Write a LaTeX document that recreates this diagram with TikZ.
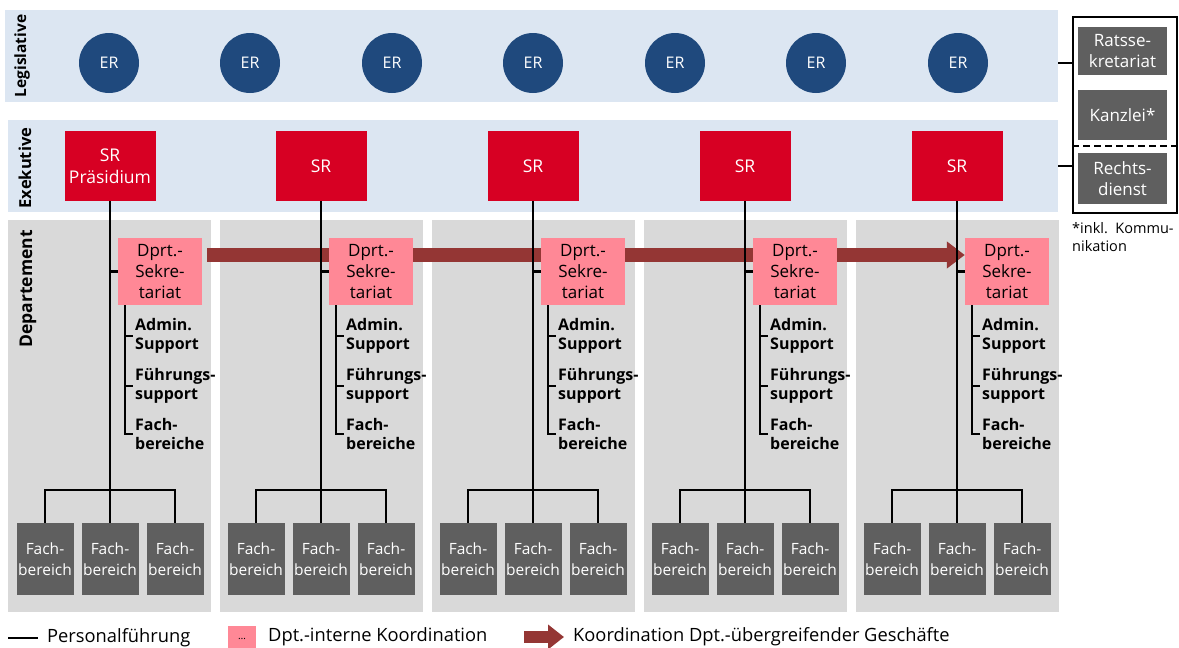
\documentclass[tikz,border=0pt]{standalone}
\usepackage{fontspec}
\setmainfont{Open Sans}
\usepackage{xcolor}
\usepackage{tikz}
\usetikzlibrary{positioning,arrows.meta,backgrounds}
\definecolor{bandblue}{RGB}{220,230,242}
\definecolor{colgray}{RGB}{217,217,217}
\definecolor{erblue}{RGB}{31,73,125}
\definecolor{srred}{RGB}{215,0,35}
\definecolor{sekpink}{RGB}{255,136,150}
\definecolor{fachgray}{RGB}{95,95,95}
\definecolor{arrowred}{RGB}{148,54,52}
\newcommand{\boxfont}{\fontsize{17pt}{21pt}\selectfont}
\newcommand{\fachfont}{\fontsize{15.5pt}{21pt}\selectfont}
\newcommand{\srfont}{\fontsize{17.5pt}{22pt}\selectfont}
\newcommand{\subfont}{\bfseries\fontsize{16pt}{19pt}\selectfont}
\newcommand{\labelfont}{\bfseries\fontsize{16.5pt}{18pt}\selectfont}
\newcommand{\notefont}{\fontsize{14.5pt}{18pt}\selectfont}
\newcommand{\keyfont}{\fontsize{18.3pt}{20pt}\selectfont}
\tikzstyle{band}=[rectangle, fill=bandblue, inner sep=0pt, anchor=north west, minimum height=92pt]
\tikzstyle{column}=[rectangle, fill=colgray, inner sep=0pt, anchor=north west,
        minimum width=203pt, minimum height=392pt]
\tikzstyle{bandlabel}=[rotate=90, font=\labelfont, inner sep=0pt]
\tikzstyle{er}=[circle, fill=erblue, text=white, minimum size=60pt, inner sep=0pt,
        font=\fontsize{16pt}{18pt}\selectfont]
\tikzstyle{srbox}=[rectangle, fill=srred, text=white, minimum width=91pt, minimum height=70pt,
        align=center, inner sep=0pt, font=\srfont]
\tikzstyle{sekbox}=[rectangle, fill=sekpink, minimum width=84pt, minimum height=67pt,
        align=center, inner sep=0pt, font=\boxfont]
\tikzstyle{fachbox}=[rectangle, fill=fachgray, text=white, minimum width=57pt, minimum height=72pt,
        align=center, inner sep=0pt, font=\fachfont]
\tikzstyle{panelbox}=[rectangle, fill=fachgray, text=white, minimum width=89pt,
        align=center, inner sep=0pt, font=\boxfont]
\tikzstyle{subitem}=[anchor=west, align=left, inner sep=2pt, font=\subfont]
\tikzstyle{keytext}=[anchor=west, inner sep=0pt, font=\keyfont]
\tikzstyle{lead}=[-, line width=2.4pt]
\tikzstyle{sublead}=[-, line width=1.4pt]
\tikzstyle{bigarrow}=[-{Triangle[length=18pt, width=26pt]}, line width=14pt, draw=arrowred]

\begin{document}
\begin{tikzpicture}[x=1pt, y=-1pt]
    \useasboundingbox (0,0) rectangle (1179,648);
    % Legislative
    \node (LegLabel) [bandlabel, font=\bfseries\fontsize{15.5pt}{18pt}\selectfont] at (22,56) {Legislative};
    \foreach \i/\ex in {1/109,2/250,3/392,4/533,5/675,6/816,7/958}
        \node (ER\i) [er] at (\ex,63) {ER};
    % Exekutive and Departement
    \node (ExeLabel) [bandlabel] at (25,168) {Exekutive};
    \node (DepLabel) [bandlabel, font=\bfseries\fontsize{17.5pt}{18pt}\selectfont] at (28,289) {Departement};
    \foreach \i/\lx/\srtext in {1/110/{SR\\Präsidium},2/321/SR,3/533/SR,4/745/SR,5/957/SR}
    {
        \node (SR\i) [srbox] at (\lx,166) {\srtext};
        \node (Sek\i) [sekbox] at (\lx+50,271.5) {Dprt.-\\Sekre-\\tariat};
        \node (Adm\i) [subitem] at (\lx+23,336) {Admin.\\Support};
        \node (Fue\i) [subitem] at (\lx+23,386) {Führungs-\\support};
        \node (Fbe\i) [subitem] at (\lx+23,434) {Fach-\\bereiche};
        \coordinate (Top\i) at (\lx,490);
        \node (FbL\i) [fachbox] at (\lx-65,559) {Fach-\\bereich};
        \node (FbM\i) [fachbox] at (\lx,559) {Fach-\\bereich};
        \node (FbR\i) [fachbox] at (\lx+65,559) {Fach-\\bereich};
        \draw[lead] (SR\i.south) -- (Top\i);
        \draw[lead] (FbL\i.north) |- (Top\i) -| (FbR\i.north);
        \draw[lead] (Top\i) -- (FbM\i.north);
        \draw[lead] (Sek\i.west -| SR\i.south) -- (Sek\i.west);
        \draw[sublead] ([xshift=7pt]Sek\i.south west) |- (Fbe\i.west);
        \draw[sublead] ([xshift=7pt]Sek\i.south west |- Adm\i.west) -- (Adm\i.west);
        \draw[sublead] ([xshift=7pt]Sek\i.south west |- Fue\i.west) -- (Fue\i.west);
    }
    \begin{scope}[on background layer]
        \node (Leg) [band, minimum width=1053pt] at (5,10) {};
        \node (Exe) [band, minimum width=1050pt] at (8,120) {};
        \foreach \i/\cx in {1/8,2/220,3/432,4/644,5/856}
            \node (Col\i) [column] at (\cx,220) {};
        \draw[bigarrow] ([xshift=5pt, yshift=16.5pt]Sek1.east) -- ([yshift=16.5pt]Sek5.west);
    \end{scope}
    % Ratssekretariat, Kanzlei, Rechtsdienst
    \node (Panel) [rectangle, draw, line width=2pt, anchor=north west,
        minimum width=104pt, minimum height=196pt] at (1072,16) {};
    \node (Rats) [panelbox, minimum height=48pt] at (1122.5,51) {Ratsse-\\kretariat};
    \node (Kanz) [panelbox, minimum height=50pt] at (1122.5,115) {Kanzlei*};
    \node (Recht) [panelbox, minimum height=51pt] at (1122.5,178.5) {Rechts-\\dienst};
    \coordinate (Split) at (1122,146);
    \draw[line width=1.6pt, dash pattern=on 7pt off 4pt] (Panel.west |- Split) -- (Panel.east |- Split);
    \draw[sublead] (Leg.east |- ER1) -- (Panel.west |- ER1);
    \draw[sublead] (Exe.east |- SR1) -- (Panel.west |- SR1);
    \node (Note) [anchor=north west, align=left, inner sep=0pt, font=\notefont]
        at (1072,222) {*inkl.\ \ Kommu-\\nikation};
    % legend
    \coordinate (KeyLine) at (8,638);
    \node (KeyLineText) [keytext] at (47,638) {Personalführung};
    \draw[lead] (KeyLine) -- ([xshift=-9pt]KeyLineText.west);
    \node (KeyPink) [sekbox, minimum width=28pt, minimum height=22pt, font=\normalsize]
        at (242,637) {\raisebox{-6pt}{\dots}};
    \node (KeyPinkText) [keytext] at (268,637) {Dpt.-interne Koordination};
    \coordinate (KeyArrow) at (524,637);
    \node (KeyArrowText) [keytext] at (573,637) {Koordination Dpt.-übergreifender Geschäfte};
    \draw[bigarrow, -{Triangle[length=16pt, width=24pt]}, line width=12pt]
        (KeyArrow) -- ([xshift=-9pt]KeyArrowText.west);
\end{tikzpicture}
\end{document}
